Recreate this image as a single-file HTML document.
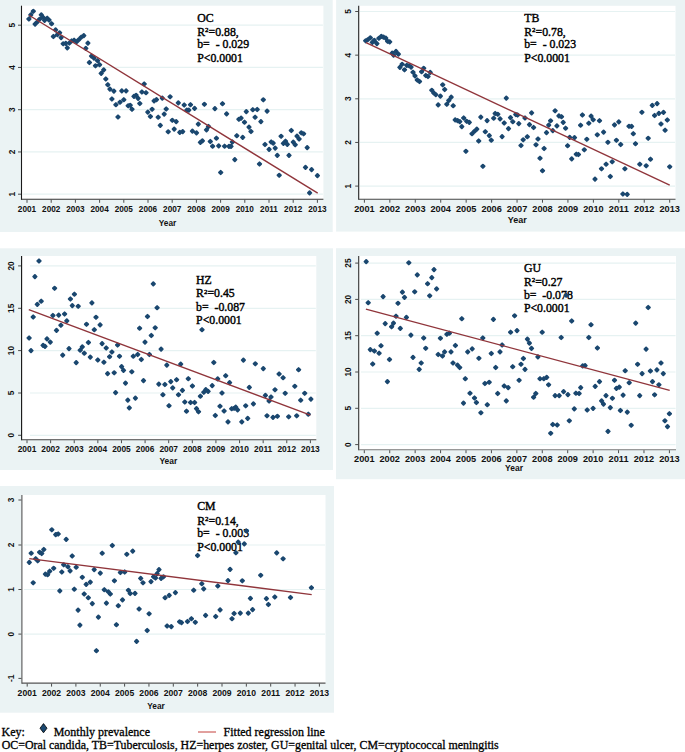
<!DOCTYPE html>
<html><head><meta charset="utf-8"><title>Monthly prevalence trends</title>
<style>
html,body{margin:0;padding:0;background:#fff;}
svg{display:block;}
.tk{font-family:'Liberation Sans', sans-serif;font-size:8.3px;fill:#111;font-weight:bold;}
.an{font-family:'Liberation Serif', serif;font-size:11.8px;fill:#000;stroke:#000;stroke-width:0.4px;}
.key{font-family:'Liberation Serif', serif;font-size:12px;fill:#000;stroke:#000;stroke-width:0.3px;}
</style></head><body>
<svg width="685" height="752" viewBox="0 0 685 752">
<rect width="685" height="752" fill="#fff"/>
<g>
<rect x="0" y="0" width="332.7" height="232" fill="#ebf3f4"/>
<rect x="21.5" y="5.7" width="301.9" height="193.6" fill="#fff"/>
<line x1="23" y1="25.2" x2="322.9" y2="25.2" stroke="#e6f2f2" stroke-width="1.2"/>
<line x1="23" y1="67.45" x2="322.9" y2="67.45" stroke="#e6f2f2" stroke-width="1.2"/>
<line x1="23" y1="109.7" x2="322.9" y2="109.7" stroke="#e6f2f2" stroke-width="1.2"/>
<line x1="23" y1="151.95" x2="322.9" y2="151.95" stroke="#e6f2f2" stroke-width="1.2"/>
<line x1="23" y1="194.2" x2="322.9" y2="194.2" stroke="#e6f2f2" stroke-width="1.2"/>
<path d="M21.5,5.7V199.85" fill="none" stroke="#1a1a1a" stroke-width="1.1"/>
<path d="M21.5,199.3H323.4" fill="none" stroke="#333" stroke-width="1.1"/>
<line x1="18" y1="25.2" x2="21" y2="25.2" stroke="#3a3a3a" stroke-width="0.9"/>
<text class="tk" text-anchor="middle" transform="translate(11.6,25.2) rotate(-90)" y="3">5</text>
<line x1="18" y1="67.45" x2="21" y2="67.45" stroke="#3a3a3a" stroke-width="0.9"/>
<text class="tk" text-anchor="middle" transform="translate(11.6,67.45) rotate(-90)" y="3">4</text>
<line x1="18" y1="109.7" x2="21" y2="109.7" stroke="#3a3a3a" stroke-width="0.9"/>
<text class="tk" text-anchor="middle" transform="translate(11.6,109.7) rotate(-90)" y="3">3</text>
<line x1="18" y1="151.95" x2="21" y2="151.95" stroke="#3a3a3a" stroke-width="0.9"/>
<text class="tk" text-anchor="middle" transform="translate(11.6,151.95) rotate(-90)" y="3">2</text>
<line x1="18" y1="194.2" x2="21" y2="194.2" stroke="#3a3a3a" stroke-width="0.9"/>
<text class="tk" text-anchor="middle" transform="translate(11.6,194.2) rotate(-90)" y="3">1</text>
<line x1="27" y1="199.8" x2="27" y2="202.8" stroke="#3a3a3a" stroke-width="0.9"/>
<text class="tk" text-anchor="middle" transform="translate(27,212.1) scale(0.99,1)">2001</text>
<line x1="51.2" y1="199.8" x2="51.2" y2="202.8" stroke="#3a3a3a" stroke-width="0.9"/>
<text class="tk" text-anchor="middle" transform="translate(51.2,212.1) scale(0.99,1)">2002</text>
<line x1="75.4" y1="199.8" x2="75.4" y2="202.8" stroke="#3a3a3a" stroke-width="0.9"/>
<text class="tk" text-anchor="middle" transform="translate(75.4,212.1) scale(0.99,1)">2003</text>
<line x1="99.6" y1="199.8" x2="99.6" y2="202.8" stroke="#3a3a3a" stroke-width="0.9"/>
<text class="tk" text-anchor="middle" transform="translate(99.6,212.1) scale(0.99,1)">2004</text>
<line x1="123.8" y1="199.8" x2="123.8" y2="202.8" stroke="#3a3a3a" stroke-width="0.9"/>
<text class="tk" text-anchor="middle" transform="translate(123.8,212.1) scale(0.99,1)">2005</text>
<line x1="148" y1="199.8" x2="148" y2="202.8" stroke="#3a3a3a" stroke-width="0.9"/>
<text class="tk" text-anchor="middle" transform="translate(148,212.1) scale(0.99,1)">2006</text>
<line x1="172.2" y1="199.8" x2="172.2" y2="202.8" stroke="#3a3a3a" stroke-width="0.9"/>
<text class="tk" text-anchor="middle" transform="translate(172.2,212.1) scale(0.99,1)">2007</text>
<line x1="196.4" y1="199.8" x2="196.4" y2="202.8" stroke="#3a3a3a" stroke-width="0.9"/>
<text class="tk" text-anchor="middle" transform="translate(196.4,212.1) scale(0.99,1)">2008</text>
<line x1="220.6" y1="199.8" x2="220.6" y2="202.8" stroke="#3a3a3a" stroke-width="0.9"/>
<text class="tk" text-anchor="middle" transform="translate(220.6,212.1) scale(0.99,1)">2009</text>
<line x1="244.8" y1="199.8" x2="244.8" y2="202.8" stroke="#3a3a3a" stroke-width="0.9"/>
<text class="tk" text-anchor="middle" transform="translate(244.8,212.1) scale(0.99,1)">2010</text>
<line x1="269" y1="199.8" x2="269" y2="202.8" stroke="#3a3a3a" stroke-width="0.9"/>
<text class="tk" text-anchor="middle" transform="translate(269,212.1) scale(0.99,1)">2011</text>
<line x1="293.2" y1="199.8" x2="293.2" y2="202.8" stroke="#3a3a3a" stroke-width="0.9"/>
<text class="tk" text-anchor="middle" transform="translate(293.2,212.1) scale(0.99,1)">2012</text>
<line x1="317.4" y1="199.8" x2="317.4" y2="202.8" stroke="#3a3a3a" stroke-width="0.9"/>
<text class="tk" text-anchor="middle" transform="translate(317.4,212.1) scale(0.99,1)">2013</text>
<text class="tk" text-anchor="middle" x="167.5" y="226.1" textLength="17.5" lengthAdjust="spacingAndGlyphs">Year</text>
<text class="an" x="197.2" y="21.6">OC</text>
<text class="an" x="197.2" y="35.7">R<tspan font-size="6.9px" dy="-3.5">2</tspan><tspan dy="3.5">=0.88,</tspan></text>
<text class="an" x="197.2" y="48.4">b=&#160; - 0.029</text>
<text class="an" x="197.2" y="62.4">P&lt;0.0001</text>
<path d="M28.9,17.4l1.6,1.6l-1.6,1.6l-1.6,-1.6zM30.8,13.3l1.6,1.6l-1.6,1.6l-1.6,-1.6zM33.3,9.7l1.6,1.6l-1.6,1.6l-1.6,-1.6zM35.1,22.5l1.6,1.6l-1.6,1.6l-1.6,-1.6zM37,20.6l1.6,1.6l-1.6,1.6l-1.6,-1.6zM39.5,17.7l1.6,1.6l-1.6,1.6l-1.6,-1.6zM41.3,13.3l1.6,1.6l-1.6,1.6l-1.6,-1.6zM42.8,15.5l1.6,1.6l-1.6,1.6l-1.6,-1.6zM44.6,18.8l1.6,1.6l-1.6,1.6l-1.6,-1.6zM47.2,16.6l1.6,1.6l-1.6,1.6l-1.6,-1.6zM49,18.4l1.6,1.6l-1.6,1.6l-1.6,-1.6zM51.6,22.1l1.6,1.6l-1.6,1.6l-1.6,-1.6zM53.4,34.9l1.6,1.6l-1.6,1.6l-1.6,-1.6zM55.6,28.3l1.6,1.6l-1.6,1.6l-1.6,-1.6zM57.4,33l1.6,1.6l-1.6,1.6l-1.6,-1.6zM59.6,31.2l1.6,1.6l-1.6,1.6l-1.6,-1.6zM61.1,36l1.6,1.6l-1.6,1.6l-1.6,-1.6zM63.2,42.2l1.6,1.6l-1.6,1.6l-1.6,-1.6zM65.8,41.8l1.6,1.6l-1.6,1.6l-1.6,-1.6zM67.3,46.3l1.6,1.6l-1.6,1.6l-1.6,-1.6zM69.4,41.4l1.6,1.6l-1.6,1.6l-1.6,-1.6zM71.6,39.4l1.6,1.6l-1.6,1.6l-1.6,-1.6zM74.1,38.6l1.6,1.6l-1.6,1.6l-1.6,-1.6zM76.6,40.2l1.6,1.6l-1.6,1.6l-1.6,-1.6zM78.7,38.1l1.6,1.6l-1.6,1.6l-1.6,-1.6zM81.2,35.6l1.6,1.6l-1.6,1.6l-1.6,-1.6zM83.8,34l1.6,1.6l-1.6,1.6l-1.6,-1.6zM85.8,46.8l1.6,1.6l-1.6,1.6l-1.6,-1.6zM87.9,41.5l1.6,1.6l-1.6,1.6l-1.6,-1.6zM89.4,60.9l1.6,1.6l-1.6,1.6l-1.6,-1.6zM91.5,54.5l1.6,1.6l-1.6,1.6l-1.6,-1.6zM94,56.5l1.6,1.6l-1.6,1.6l-1.6,-1.6zM95.5,64.2l1.6,1.6l-1.6,1.6l-1.6,-1.6zM97.6,59.1l1.6,1.6l-1.6,1.6l-1.6,-1.6zM99.6,63.1l1.6,1.6l-1.6,1.6l-1.6,-1.6zM101.2,71.8l1.6,1.6l-1.6,1.6l-1.6,-1.6zM103.7,68.3l1.6,1.6l-1.6,1.6l-1.6,-1.6zM105.8,77.4l1.6,1.6l-1.6,1.6l-1.6,-1.6zM107.8,83.1l1.6,1.6l-1.6,1.6l-1.6,-1.6zM109.9,87.5l1.6,1.6l-1.6,1.6l-1.6,-1.6zM111.9,97.4l1.6,1.6l-1.6,1.6l-1.6,-1.6zM113.9,89.5l1.6,1.6l-1.6,1.6l-1.6,-1.6zM115.9,103.1l1.6,1.6l-1.6,1.6l-1.6,-1.6zM118,115.4l1.6,1.6l-1.6,1.6l-1.6,-1.6zM120,100.6l1.6,1.6l-1.6,1.6l-1.6,-1.6zM121.8,89.3l1.6,1.6l-1.6,1.6l-1.6,-1.6zM123.8,98.1l1.6,1.6l-1.6,1.6l-1.6,-1.6zM126.1,89.3l1.6,1.6l-1.6,1.6l-1.6,-1.6zM128.2,104.2l1.6,1.6l-1.6,1.6l-1.6,-1.6zM130.2,103.7l1.6,1.6l-1.6,1.6l-1.6,-1.6zM132,107.7l1.6,1.6l-1.6,1.6l-1.6,-1.6zM134,94.8l1.6,1.6l-1.6,1.6l-1.6,-1.6zM136.1,93.7l1.6,1.6l-1.6,1.6l-1.6,-1.6zM138.1,96.8l1.6,1.6l-1.6,1.6l-1.6,-1.6zM139.8,101.9l1.6,1.6l-1.6,1.6l-1.6,-1.6zM141.9,90.4l1.6,1.6l-1.6,1.6l-1.6,-1.6zM144.2,82.4l1.6,1.6l-1.6,1.6l-1.6,-1.6zM146,91.1l1.6,1.6l-1.6,1.6l-1.6,-1.6zM147.8,110.5l1.6,1.6l-1.6,1.6l-1.6,-1.6zM150.4,114.9l1.6,1.6l-1.6,1.6l-1.6,-1.6zM152.1,107.7l1.6,1.6l-1.6,1.6l-1.6,-1.6zM154.1,99.3l1.6,1.6l-1.6,1.6l-1.6,-1.6zM156.5,98l1.6,1.6l-1.6,1.6l-1.6,-1.6zM158.2,115.6l1.6,1.6l-1.6,1.6l-1.6,-1.6zM160.3,123.8l1.6,1.6l-1.6,1.6l-1.6,-1.6zM162.3,96.5l1.6,1.6l-1.6,1.6l-1.6,-1.6zM164.2,112.5l1.6,1.6l-1.6,1.6l-1.6,-1.6zM166.2,107.4l1.6,1.6l-1.6,1.6l-1.6,-1.6zM168.2,130.2l1.6,1.6l-1.6,1.6l-1.6,-1.6zM170.1,95.2l1.6,1.6l-1.6,1.6l-1.6,-1.6zM172.3,118.7l1.6,1.6l-1.6,1.6l-1.6,-1.6zM174.2,127.5l1.6,1.6l-1.6,1.6l-1.6,-1.6zM176.2,120l1.6,1.6l-1.6,1.6l-1.6,-1.6zM178.3,101.3l1.6,1.6l-1.6,1.6l-1.6,-1.6zM179.8,130.8l1.6,1.6l-1.6,1.6l-1.6,-1.6zM182.7,130l1.6,1.6l-1.6,1.6l-1.6,-1.6zM184.2,103.4l1.6,1.6l-1.6,1.6l-1.6,-1.6zM186.8,108.5l1.6,1.6l-1.6,1.6l-1.6,-1.6zM188.8,108.5l1.6,1.6l-1.6,1.6l-1.6,-1.6zM190.5,103.1l1.6,1.6l-1.6,1.6l-1.6,-1.6zM192.4,129.5l1.6,1.6l-1.6,1.6l-1.6,-1.6zM194.6,106.8l1.6,1.6l-1.6,1.6l-1.6,-1.6zM196.5,131.3l1.6,1.6l-1.6,1.6l-1.6,-1.6zM198.3,122.5l1.6,1.6l-1.6,1.6l-1.6,-1.6zM200.4,140.8l1.6,1.6l-1.6,1.6l-1.6,-1.6zM202.4,139.3l1.6,1.6l-1.6,1.6l-1.6,-1.6zM204.4,102.7l1.6,1.6l-1.6,1.6l-1.6,-1.6zM206.5,128.3l1.6,1.6l-1.6,1.6l-1.6,-1.6zM208.5,124.9l1.6,1.6l-1.6,1.6l-1.6,-1.6zM210.3,139.9l1.6,1.6l-1.6,1.6l-1.6,-1.6zM212.6,144.6l1.6,1.6l-1.6,1.6l-1.6,-1.6zM214.9,107l1.6,1.6l-1.6,1.6l-1.6,-1.6zM216.4,136.6l1.6,1.6l-1.6,1.6l-1.6,-1.6zM218.7,144.3l1.6,1.6l-1.6,1.6l-1.6,-1.6zM220.7,170.9l1.6,1.6l-1.6,1.6l-1.6,-1.6zM222.5,102.1l1.6,1.6l-1.6,1.6l-1.6,-1.6zM224.6,144.6l1.6,1.6l-1.6,1.6l-1.6,-1.6zM226.6,112.3l1.6,1.6l-1.6,1.6l-1.6,-1.6zM229,144.8l1.6,1.6l-1.6,1.6l-1.6,-1.6zM231,144.8l1.6,1.6l-1.6,1.6l-1.6,-1.6zM232.4,140.4l1.6,1.6l-1.6,1.6l-1.6,-1.6zM234.8,158l1.6,1.6l-1.6,1.6l-1.6,-1.6zM236.8,134.1l1.6,1.6l-1.6,1.6l-1.6,-1.6zM238.9,117.7l1.6,1.6l-1.6,1.6l-1.6,-1.6zM241.1,116.5l1.6,1.6l-1.6,1.6l-1.6,-1.6zM242.7,135.8l1.6,1.6l-1.6,1.6l-1.6,-1.6zM244.5,120.6l1.6,1.6l-1.6,1.6l-1.6,-1.6zM246.3,110l1.6,1.6l-1.6,1.6l-1.6,-1.6zM249,125.5l1.6,1.6l-1.6,1.6l-1.6,-1.6zM251,129.9l1.6,1.6l-1.6,1.6l-1.6,-1.6zM252.8,108.1l1.6,1.6l-1.6,1.6l-1.6,-1.6zM255.1,115.6l1.6,1.6l-1.6,1.6l-1.6,-1.6zM257.2,107.9l1.6,1.6l-1.6,1.6l-1.6,-1.6zM259.5,162.4l1.6,1.6l-1.6,1.6l-1.6,-1.6zM260.9,120l1.6,1.6l-1.6,1.6l-1.6,-1.6zM263.3,98.2l1.6,1.6l-1.6,1.6l-1.6,-1.6zM265,142.9l1.6,1.6l-1.6,1.6l-1.6,-1.6zM267.1,109.5l1.6,1.6l-1.6,1.6l-1.6,-1.6zM269.1,147.8l1.6,1.6l-1.6,1.6l-1.6,-1.6zM271.2,140.4l1.6,1.6l-1.6,1.6l-1.6,-1.6zM273.2,141.5l1.6,1.6l-1.6,1.6l-1.6,-1.6zM275.2,146.5l1.6,1.6l-1.6,1.6l-1.6,-1.6zM277.3,153.8l1.6,1.6l-1.6,1.6l-1.6,-1.6zM279.2,173.7l1.6,1.6l-1.6,1.6l-1.6,-1.6zM281.1,134.7l1.6,1.6l-1.6,1.6l-1.6,-1.6zM283.4,141.8l1.6,1.6l-1.6,1.6l-1.6,-1.6zM285.5,139.6l1.6,1.6l-1.6,1.6l-1.6,-1.6zM287.3,142.8l1.6,1.6l-1.6,1.6l-1.6,-1.6zM289,153.8l1.6,1.6l-1.6,1.6l-1.6,-1.6zM291.3,128.9l1.6,1.6l-1.6,1.6l-1.6,-1.6zM293.3,140.5l1.6,1.6l-1.6,1.6l-1.6,-1.6zM295.2,143.2l1.6,1.6l-1.6,1.6l-1.6,-1.6zM297,134.5l1.6,1.6l-1.6,1.6l-1.6,-1.6zM299.1,137.4l1.6,1.6l-1.6,1.6l-1.6,-1.6zM301.3,131.2l1.6,1.6l-1.6,1.6l-1.6,-1.6zM303.6,132.2l1.6,1.6l-1.6,1.6l-1.6,-1.6zM305.5,165.8l1.6,1.6l-1.6,1.6l-1.6,-1.6zM307.2,146l1.6,1.6l-1.6,1.6l-1.6,-1.6zM309.6,191.3l1.6,1.6l-1.6,1.6l-1.6,-1.6zM311.6,168l1.6,1.6l-1.6,1.6l-1.6,-1.6zM317.4,174l1.6,1.6l-1.6,1.6l-1.6,-1.6z" fill="#1a476f" stroke="#1a476f" stroke-width="2" stroke-linejoin="round"/>
<line x1="29.1" y1="15.3" x2="317.7" y2="193.1" stroke="#90353b" stroke-width="1.35"/>
</g>
<g>
<rect x="336.1" y="0" width="348.9" height="231.6" fill="#ebf3f4"/>
<rect x="358.7" y="5.8" width="316.8" height="193.4" fill="#fff"/>
<line x1="360" y1="11.5" x2="675" y2="11.5" stroke="#e6f2f2" stroke-width="1.2"/>
<line x1="360" y1="55.15" x2="675" y2="55.15" stroke="#e6f2f2" stroke-width="1.2"/>
<line x1="360" y1="98.8" x2="675" y2="98.8" stroke="#e6f2f2" stroke-width="1.2"/>
<line x1="360" y1="142.45" x2="675" y2="142.45" stroke="#e6f2f2" stroke-width="1.2"/>
<line x1="360" y1="186.1" x2="675" y2="186.1" stroke="#e6f2f2" stroke-width="1.2"/>
<path d="M358.7,5.8V199.75" fill="none" stroke="#222" stroke-width="1.1"/>
<path d="M358.7,199.2H675.5" fill="none" stroke="#444" stroke-width="1.1"/>
<line x1="355.2" y1="11.5" x2="358.2" y2="11.5" stroke="#3a3a3a" stroke-width="0.9"/>
<text class="tk" text-anchor="middle" transform="translate(348,11.5) rotate(-90)" y="3">5</text>
<line x1="355.2" y1="55.15" x2="358.2" y2="55.15" stroke="#3a3a3a" stroke-width="0.9"/>
<text class="tk" text-anchor="middle" transform="translate(348,55.15) rotate(-90)" y="3">4</text>
<line x1="355.2" y1="98.8" x2="358.2" y2="98.8" stroke="#3a3a3a" stroke-width="0.9"/>
<text class="tk" text-anchor="middle" transform="translate(348,98.8) rotate(-90)" y="3">3</text>
<line x1="355.2" y1="142.45" x2="358.2" y2="142.45" stroke="#3a3a3a" stroke-width="0.9"/>
<text class="tk" text-anchor="middle" transform="translate(348,142.45) rotate(-90)" y="3">2</text>
<line x1="355.2" y1="186.1" x2="358.2" y2="186.1" stroke="#3a3a3a" stroke-width="0.9"/>
<text class="tk" text-anchor="middle" transform="translate(348,186.1) rotate(-90)" y="3">1</text>
<line x1="364.4" y1="199.7" x2="364.4" y2="202.7" stroke="#3a3a3a" stroke-width="0.9"/>
<text class="tk" text-anchor="middle" transform="translate(364.4,211.9) scale(1.11,1)">2001</text>
<line x1="389.84" y1="199.7" x2="389.84" y2="202.7" stroke="#3a3a3a" stroke-width="0.9"/>
<text class="tk" text-anchor="middle" transform="translate(389.84,211.9) scale(1.11,1)">2002</text>
<line x1="415.28" y1="199.7" x2="415.28" y2="202.7" stroke="#3a3a3a" stroke-width="0.9"/>
<text class="tk" text-anchor="middle" transform="translate(415.28,211.9) scale(1.11,1)">2003</text>
<line x1="440.73" y1="199.7" x2="440.73" y2="202.7" stroke="#3a3a3a" stroke-width="0.9"/>
<text class="tk" text-anchor="middle" transform="translate(440.73,211.9) scale(1.11,1)">2004</text>
<line x1="466.17" y1="199.7" x2="466.17" y2="202.7" stroke="#3a3a3a" stroke-width="0.9"/>
<text class="tk" text-anchor="middle" transform="translate(466.17,211.9) scale(1.11,1)">2005</text>
<line x1="491.61" y1="199.7" x2="491.61" y2="202.7" stroke="#3a3a3a" stroke-width="0.9"/>
<text class="tk" text-anchor="middle" transform="translate(491.61,211.9) scale(1.11,1)">2006</text>
<line x1="517.05" y1="199.7" x2="517.05" y2="202.7" stroke="#3a3a3a" stroke-width="0.9"/>
<text class="tk" text-anchor="middle" transform="translate(517.05,211.9) scale(1.11,1)">2007</text>
<line x1="542.49" y1="199.7" x2="542.49" y2="202.7" stroke="#3a3a3a" stroke-width="0.9"/>
<text class="tk" text-anchor="middle" transform="translate(542.49,211.9) scale(1.11,1)">2008</text>
<line x1="567.93" y1="199.7" x2="567.93" y2="202.7" stroke="#3a3a3a" stroke-width="0.9"/>
<text class="tk" text-anchor="middle" transform="translate(567.93,211.9) scale(1.11,1)">2009</text>
<line x1="593.38" y1="199.7" x2="593.38" y2="202.7" stroke="#3a3a3a" stroke-width="0.9"/>
<text class="tk" text-anchor="middle" transform="translate(593.38,211.9) scale(1.11,1)">2010</text>
<line x1="618.82" y1="199.7" x2="618.82" y2="202.7" stroke="#3a3a3a" stroke-width="0.9"/>
<text class="tk" text-anchor="middle" transform="translate(618.82,211.9) scale(1.11,1)">2011</text>
<line x1="644.26" y1="199.7" x2="644.26" y2="202.7" stroke="#3a3a3a" stroke-width="0.9"/>
<text class="tk" text-anchor="middle" transform="translate(644.26,211.9) scale(1.11,1)">2012</text>
<line x1="669.7" y1="199.7" x2="669.7" y2="202.7" stroke="#3a3a3a" stroke-width="0.9"/>
<text class="tk" text-anchor="middle" transform="translate(669.7,211.9) scale(1.11,1)">2013</text>
<text class="tk" text-anchor="middle" x="517.3" y="222.8" textLength="19" lengthAdjust="spacingAndGlyphs">Year</text>
<text class="an" x="524.2" y="21.6">TB</text>
<text class="an" x="524.2" y="35.5">R<tspan font-size="6.9px" dy="-3.5">2</tspan><tspan dy="3.5">=0.78,</tspan></text>
<text class="an" x="524.2" y="48.4">b=&#160; - 0.023</text>
<text class="an" x="524.2" y="62.2">P&lt;0.0001</text>
<path d="M365.7,39.2l1.6,1.6l-1.6,1.6l-1.6,-1.6zM367.7,38.2l1.6,1.6l-1.6,1.6l-1.6,-1.6zM370.3,36.2l1.6,1.6l-1.6,1.6l-1.6,-1.6zM372.3,40.8l1.6,1.6l-1.6,1.6l-1.6,-1.6zM374.3,38.7l1.6,1.6l-1.6,1.6l-1.6,-1.6zM376.9,42l1.6,1.6l-1.6,1.6l-1.6,-1.6zM378.9,36.7l1.6,1.6l-1.6,1.6l-1.6,-1.6zM381.3,34.8l1.6,1.6l-1.6,1.6l-1.6,-1.6zM383.5,35.5l1.6,1.6l-1.6,1.6l-1.6,-1.6zM385.8,36.5l1.6,1.6l-1.6,1.6l-1.6,-1.6zM387.6,39.7l1.6,1.6l-1.6,1.6l-1.6,-1.6zM389.7,40.3l1.6,1.6l-1.6,1.6l-1.6,-1.6zM392.2,51.5l1.6,1.6l-1.6,1.6l-1.6,-1.6zM393.6,53.5l1.6,1.6l-1.6,1.6l-1.6,-1.6zM396,49.8l1.6,1.6l-1.6,1.6l-1.6,-1.6zM398.4,52.5l1.6,1.6l-1.6,1.6l-1.6,-1.6zM399.9,65.8l1.6,1.6l-1.6,1.6l-1.6,-1.6zM402.1,62.7l1.6,1.6l-1.6,1.6l-1.6,-1.6zM404.5,68.2l1.6,1.6l-1.6,1.6l-1.6,-1.6zM406.8,63.8l1.6,1.6l-1.6,1.6l-1.6,-1.6zM409.1,64.1l1.6,1.6l-1.6,1.6l-1.6,-1.6zM411.1,65.5l1.6,1.6l-1.6,1.6l-1.6,-1.6zM413,70.6l1.6,1.6l-1.6,1.6l-1.6,-1.6zM415,74.3l1.6,1.6l-1.6,1.6l-1.6,-1.6zM417.3,78.4l1.6,1.6l-1.6,1.6l-1.6,-1.6zM419.5,79.9l1.6,1.6l-1.6,1.6l-1.6,-1.6zM421.6,70.1l1.6,1.6l-1.6,1.6l-1.6,-1.6zM423.7,66.7l1.6,1.6l-1.6,1.6l-1.6,-1.6zM425.8,73.9l1.6,1.6l-1.6,1.6l-1.6,-1.6zM428,74.9l1.6,1.6l-1.6,1.6l-1.6,-1.6zM430.2,70.8l1.6,1.6l-1.6,1.6l-1.6,-1.6zM431.8,88.7l1.6,1.6l-1.6,1.6l-1.6,-1.6zM433.8,91.4l1.6,1.6l-1.6,1.6l-1.6,-1.6zM435.8,93l1.6,1.6l-1.6,1.6l-1.6,-1.6zM438.2,103.3l1.6,1.6l-1.6,1.6l-1.6,-1.6zM440.4,94.5l1.6,1.6l-1.6,1.6l-1.6,-1.6zM442.7,83.2l1.6,1.6l-1.6,1.6l-1.6,-1.6zM444.7,87.9l1.6,1.6l-1.6,1.6l-1.6,-1.6zM446.8,102.7l1.6,1.6l-1.6,1.6l-1.6,-1.6zM448.8,98.9l1.6,1.6l-1.6,1.6l-1.6,-1.6zM451.2,95.5l1.6,1.6l-1.6,1.6l-1.6,-1.6zM453.2,104.1l1.6,1.6l-1.6,1.6l-1.6,-1.6zM455.2,118.3l1.6,1.6l-1.6,1.6l-1.6,-1.6zM457.6,119l1.6,1.6l-1.6,1.6l-1.6,-1.6zM459.8,120l1.6,1.6l-1.6,1.6l-1.6,-1.6zM461.8,125l1.6,1.6l-1.6,1.6l-1.6,-1.6zM463.7,116.4l1.6,1.6l-1.6,1.6l-1.6,-1.6zM465.9,149.7l1.6,1.6l-1.6,1.6l-1.6,-1.6zM466.7,119.7l1.6,1.6l-1.6,1.6l-1.6,-1.6zM469.3,120.8l1.6,1.6l-1.6,1.6l-1.6,-1.6zM472,132.1l1.6,1.6l-1.6,1.6l-1.6,-1.6zM474.5,129.6l1.6,1.6l-1.6,1.6l-1.6,-1.6zM476.8,127.5l1.6,1.6l-1.6,1.6l-1.6,-1.6zM478.7,139.4l1.6,1.6l-1.6,1.6l-1.6,-1.6zM480.8,115.5l1.6,1.6l-1.6,1.6l-1.6,-1.6zM482.9,164.7l1.6,1.6l-1.6,1.6l-1.6,-1.6zM485.3,130.1l1.6,1.6l-1.6,1.6l-1.6,-1.6zM487.1,119l1.6,1.6l-1.6,1.6l-1.6,-1.6zM489.3,134l1.6,1.6l-1.6,1.6l-1.6,-1.6zM491.3,138.6l1.6,1.6l-1.6,1.6l-1.6,-1.6zM493.7,116.6l1.6,1.6l-1.6,1.6l-1.6,-1.6zM495.2,111.9l1.6,1.6l-1.6,1.6l-1.6,-1.6zM497.8,112.7l1.6,1.6l-1.6,1.6l-1.6,-1.6zM500.1,117.3l1.6,1.6l-1.6,1.6l-1.6,-1.6zM502.1,135l1.6,1.6l-1.6,1.6l-1.6,-1.6zM504.2,121.4l1.6,1.6l-1.6,1.6l-1.6,-1.6zM506.3,96.5l1.6,1.6l-1.6,1.6l-1.6,-1.6zM508.5,127l1.6,1.6l-1.6,1.6l-1.6,-1.6zM510.5,116l1.6,1.6l-1.6,1.6l-1.6,-1.6zM512.8,120.1l1.6,1.6l-1.6,1.6l-1.6,-1.6zM515.8,112.9l1.6,1.6l-1.6,1.6l-1.6,-1.6zM517.6,113.4l1.6,1.6l-1.6,1.6l-1.6,-1.6zM518.8,122l1.6,1.6l-1.6,1.6l-1.6,-1.6zM521,143.9l1.6,1.6l-1.6,1.6l-1.6,-1.6zM523.2,138.2l1.6,1.6l-1.6,1.6l-1.6,-1.6zM525,116.4l1.6,1.6l-1.6,1.6l-1.6,-1.6zM527.3,135.1l1.6,1.6l-1.6,1.6l-1.6,-1.6zM529.5,123l1.6,1.6l-1.6,1.6l-1.6,-1.6zM531.6,111.3l1.6,1.6l-1.6,1.6l-1.6,-1.6zM533.6,125.9l1.6,1.6l-1.6,1.6l-1.6,-1.6zM536,143.2l1.6,1.6l-1.6,1.6l-1.6,-1.6zM538,137.4l1.6,1.6l-1.6,1.6l-1.6,-1.6zM540,156.6l1.6,1.6l-1.6,1.6l-1.6,-1.6zM542.5,169.1l1.6,1.6l-1.6,1.6l-1.6,-1.6zM544.1,146.9l1.6,1.6l-1.6,1.6l-1.6,-1.6zM546.5,131l1.6,1.6l-1.6,1.6l-1.6,-1.6zM548.7,123.5l1.6,1.6l-1.6,1.6l-1.6,-1.6zM550.6,119.2l1.6,1.6l-1.6,1.6l-1.6,-1.6zM552.8,129l1.6,1.6l-1.6,1.6l-1.6,-1.6zM555.1,109.2l1.6,1.6l-1.6,1.6l-1.6,-1.6zM556.9,124.3l1.6,1.6l-1.6,1.6l-1.6,-1.6zM558.9,114.3l1.6,1.6l-1.6,1.6l-1.6,-1.6zM561.5,115.1l1.6,1.6l-1.6,1.6l-1.6,-1.6zM563.2,120.8l1.6,1.6l-1.6,1.6l-1.6,-1.6zM565.6,126.6l1.6,1.6l-1.6,1.6l-1.6,-1.6zM567.6,144.1l1.6,1.6l-1.6,1.6l-1.6,-1.6zM569.7,135.8l1.6,1.6l-1.6,1.6l-1.6,-1.6zM571.7,157.3l1.6,1.6l-1.6,1.6l-1.6,-1.6zM574.5,136l1.6,1.6l-1.6,1.6l-1.6,-1.6zM576.3,152.6l1.6,1.6l-1.6,1.6l-1.6,-1.6zM578.4,152.9l1.6,1.6l-1.6,1.6l-1.6,-1.6zM580.6,123.6l1.6,1.6l-1.6,1.6l-1.6,-1.6zM582.4,113.4l1.6,1.6l-1.6,1.6l-1.6,-1.6zM584.3,148.2l1.6,1.6l-1.6,1.6l-1.6,-1.6zM586.8,137.7l1.6,1.6l-1.6,1.6l-1.6,-1.6zM588.8,121.6l1.6,1.6l-1.6,1.6l-1.6,-1.6zM591.1,114.5l1.6,1.6l-1.6,1.6l-1.6,-1.6zM593.2,118.2l1.6,1.6l-1.6,1.6l-1.6,-1.6zM595,177.5l1.6,1.6l-1.6,1.6l-1.6,-1.6zM597.3,133.2l1.6,1.6l-1.6,1.6l-1.6,-1.6zM599.5,119.1l1.6,1.6l-1.6,1.6l-1.6,-1.6zM601.5,167.2l1.6,1.6l-1.6,1.6l-1.6,-1.6zM603.6,130.5l1.6,1.6l-1.6,1.6l-1.6,-1.6zM606.1,162.6l1.6,1.6l-1.6,1.6l-1.6,-1.6zM607.9,140.7l1.6,1.6l-1.6,1.6l-1.6,-1.6zM610.3,174.9l1.6,1.6l-1.6,1.6l-1.6,-1.6zM612.2,160.2l1.6,1.6l-1.6,1.6l-1.6,-1.6zM614.5,123.3l1.6,1.6l-1.6,1.6l-1.6,-1.6zM616.4,138.7l1.6,1.6l-1.6,1.6l-1.6,-1.6zM618.8,120.3l1.6,1.6l-1.6,1.6l-1.6,-1.6zM620.7,142.9l1.6,1.6l-1.6,1.6l-1.6,-1.6zM622.9,192.4l1.6,1.6l-1.6,1.6l-1.6,-1.6zM624.9,167.2l1.6,1.6l-1.6,1.6l-1.6,-1.6zM627.2,192.8l1.6,1.6l-1.6,1.6l-1.6,-1.6zM629,124.7l1.6,1.6l-1.6,1.6l-1.6,-1.6zM631.6,124.8l1.6,1.6l-1.6,1.6l-1.6,-1.6zM633.3,132.1l1.6,1.6l-1.6,1.6l-1.6,-1.6zM635.5,142.1l1.6,1.6l-1.6,1.6l-1.6,-1.6zM639.8,162.6l1.6,1.6l-1.6,1.6l-1.6,-1.6zM641.9,110.7l1.6,1.6l-1.6,1.6l-1.6,-1.6zM646.2,164.2l1.6,1.6l-1.6,1.6l-1.6,-1.6zM648.2,136.7l1.6,1.6l-1.6,1.6l-1.6,-1.6zM650.5,157.6l1.6,1.6l-1.6,1.6l-1.6,-1.6zM652.3,103.8l1.6,1.6l-1.6,1.6l-1.6,-1.6zM654.6,113.9l1.6,1.6l-1.6,1.6l-1.6,-1.6zM657.1,102l1.6,1.6l-1.6,1.6l-1.6,-1.6zM658.9,111.8l1.6,1.6l-1.6,1.6l-1.6,-1.6zM661,122.4l1.6,1.6l-1.6,1.6l-1.6,-1.6zM663.5,110.8l1.6,1.6l-1.6,1.6l-1.6,-1.6zM665.1,128.6l1.6,1.6l-1.6,1.6l-1.6,-1.6zM667.3,118.4l1.6,1.6l-1.6,1.6l-1.6,-1.6zM669.7,165.2l1.6,1.6l-1.6,1.6l-1.6,-1.6z" fill="#1a476f" stroke="#1a476f" stroke-width="2" stroke-linejoin="round"/>
<line x1="366" y1="42.6" x2="669.7" y2="185.2" stroke="#90353b" stroke-width="1.35"/>
</g>
<g>
<rect x="0" y="248.3" width="333" height="221.7" fill="#ebf3f4"/>
<rect x="21.6" y="256" width="294.7" height="183.7" fill="#fff"/>
<line x1="30" y1="265.9" x2="315.8" y2="265.9" stroke="#e6f2f2" stroke-width="1.2"/>
<line x1="30" y1="308.3" x2="315.8" y2="308.3" stroke="#e6f2f2" stroke-width="1.2"/>
<line x1="30" y1="350.6" x2="315.8" y2="350.6" stroke="#e6f2f2" stroke-width="1.2"/>
<line x1="30" y1="393" x2="315.8" y2="393" stroke="#e6f2f2" stroke-width="1.2"/>
<line x1="30" y1="435.3" x2="315.8" y2="435.3" stroke="#e6f2f2" stroke-width="1.2"/>
<path d="M21.6,256V440.25" fill="none" stroke="#111" stroke-width="1.1"/>
<path d="M21.6,439.7H316.3" fill="none" stroke="#444" stroke-width="1.1"/>
<line x1="18.1" y1="265.9" x2="21.1" y2="265.9" stroke="#3a3a3a" stroke-width="0.9"/>
<text class="tk" text-anchor="middle" transform="translate(11.2,265.9) rotate(-90)" y="3">20</text>
<line x1="18.1" y1="308.3" x2="21.1" y2="308.3" stroke="#3a3a3a" stroke-width="0.9"/>
<text class="tk" text-anchor="middle" transform="translate(11.2,308.3) rotate(-90)" y="3">15</text>
<line x1="18.1" y1="350.6" x2="21.1" y2="350.6" stroke="#3a3a3a" stroke-width="0.9"/>
<text class="tk" text-anchor="middle" transform="translate(11.2,350.6) rotate(-90)" y="3">10</text>
<line x1="18.1" y1="393" x2="21.1" y2="393" stroke="#3a3a3a" stroke-width="0.9"/>
<text class="tk" text-anchor="middle" transform="translate(11.2,393) rotate(-90)" y="3">5</text>
<line x1="18.1" y1="435.3" x2="21.1" y2="435.3" stroke="#3a3a3a" stroke-width="0.9"/>
<text class="tk" text-anchor="middle" transform="translate(11.2,435.3) rotate(-90)" y="3">0</text>
<line x1="27" y1="440.2" x2="27" y2="443.2" stroke="#3a3a3a" stroke-width="0.9"/>
<text class="tk" text-anchor="middle" transform="translate(27,451.6) scale(1.01,1)">2001</text>
<line x1="50.62" y1="440.2" x2="50.62" y2="443.2" stroke="#3a3a3a" stroke-width="0.9"/>
<text class="tk" text-anchor="middle" transform="translate(50.62,451.6) scale(1.01,1)">2002</text>
<line x1="74.23" y1="440.2" x2="74.23" y2="443.2" stroke="#3a3a3a" stroke-width="0.9"/>
<text class="tk" text-anchor="middle" transform="translate(74.23,451.6) scale(1.01,1)">2003</text>
<line x1="97.85" y1="440.2" x2="97.85" y2="443.2" stroke="#3a3a3a" stroke-width="0.9"/>
<text class="tk" text-anchor="middle" transform="translate(97.85,451.6) scale(1.01,1)">2004</text>
<line x1="121.47" y1="440.2" x2="121.47" y2="443.2" stroke="#3a3a3a" stroke-width="0.9"/>
<text class="tk" text-anchor="middle" transform="translate(121.47,451.6) scale(1.01,1)">2005</text>
<line x1="145.08" y1="440.2" x2="145.08" y2="443.2" stroke="#3a3a3a" stroke-width="0.9"/>
<text class="tk" text-anchor="middle" transform="translate(145.08,451.6) scale(1.01,1)">2006</text>
<line x1="168.7" y1="440.2" x2="168.7" y2="443.2" stroke="#3a3a3a" stroke-width="0.9"/>
<text class="tk" text-anchor="middle" transform="translate(168.7,451.6) scale(1.01,1)">2007</text>
<line x1="192.32" y1="440.2" x2="192.32" y2="443.2" stroke="#3a3a3a" stroke-width="0.9"/>
<text class="tk" text-anchor="middle" transform="translate(192.32,451.6) scale(1.01,1)">2008</text>
<line x1="215.93" y1="440.2" x2="215.93" y2="443.2" stroke="#3a3a3a" stroke-width="0.9"/>
<text class="tk" text-anchor="middle" transform="translate(215.93,451.6) scale(1.01,1)">2009</text>
<line x1="239.55" y1="440.2" x2="239.55" y2="443.2" stroke="#3a3a3a" stroke-width="0.9"/>
<text class="tk" text-anchor="middle" transform="translate(239.55,451.6) scale(1.01,1)">2010</text>
<line x1="263.17" y1="440.2" x2="263.17" y2="443.2" stroke="#3a3a3a" stroke-width="0.9"/>
<text class="tk" text-anchor="middle" transform="translate(263.17,451.6) scale(1.01,1)">2011</text>
<line x1="286.78" y1="440.2" x2="286.78" y2="443.2" stroke="#3a3a3a" stroke-width="0.9"/>
<text class="tk" text-anchor="middle" transform="translate(286.78,451.6) scale(1.01,1)">2012</text>
<line x1="310.4" y1="440.2" x2="310.4" y2="443.2" stroke="#3a3a3a" stroke-width="0.9"/>
<text class="tk" text-anchor="middle" transform="translate(310.4,451.6) scale(1.01,1)">2013</text>
<text class="tk" text-anchor="middle" x="168.3" y="463.6" textLength="17.8" lengthAdjust="spacingAndGlyphs">Year</text>
<text class="an" x="196.1" y="283.7">HZ</text>
<text class="an" x="196.1" y="297.2">R<tspan font-size="6.9px" dy="-3.5">2</tspan><tspan dy="3.5">=0.45</tspan></text>
<text class="an" x="196.1" y="310.5">b=&#160; -0.087</text>
<text class="an" x="196.1" y="323.6">P&lt;0.0001</text>
<path d="M29.1,336.4l1.6,1.6l-1.6,1.6l-1.6,-1.6zM31,349l1.6,1.6l-1.6,1.6l-1.6,-1.6zM33.2,315.4l1.6,1.6l-1.6,1.6l-1.6,-1.6zM34.9,275l1.6,1.6l-1.6,1.6l-1.6,-1.6zM37.3,302.8l1.6,1.6l-1.6,1.6l-1.6,-1.6zM39,259.4l1.6,1.6l-1.6,1.6l-1.6,-1.6zM41.2,299.6l1.6,1.6l-1.6,1.6l-1.6,-1.6zM43.1,343.8l1.6,1.6l-1.6,1.6l-1.6,-1.6zM45,344.8l1.6,1.6l-1.6,1.6l-1.6,-1.6zM47,337.3l1.6,1.6l-1.6,1.6l-1.6,-1.6zM50.3,340.5l1.6,1.6l-1.6,1.6l-1.6,-1.6zM52.9,313.9l1.6,1.6l-1.6,1.6l-1.6,-1.6zM54.6,286.7l1.6,1.6l-1.6,1.6l-1.6,-1.6zM56.5,328.8l1.6,1.6l-1.6,1.6l-1.6,-1.6zM58.7,313.5l1.6,1.6l-1.6,1.6l-1.6,-1.6zM60.9,323.7l1.6,1.6l-1.6,1.6l-1.6,-1.6zM62.7,353.5l1.6,1.6l-1.6,1.6l-1.6,-1.6zM64.6,312.4l1.6,1.6l-1.6,1.6l-1.6,-1.6zM66.8,319.3l1.6,1.6l-1.6,1.6l-1.6,-1.6zM69,347l1.6,1.6l-1.6,1.6l-1.6,-1.6zM70.4,297.4l1.6,1.6l-1.6,1.6l-1.6,-1.6zM72.3,304l1.6,1.6l-1.6,1.6l-1.6,-1.6zM74.4,292.6l1.6,1.6l-1.6,1.6l-1.6,-1.6zM76.2,361l1.6,1.6l-1.6,1.6l-1.6,-1.6zM78.2,304.7l1.6,1.6l-1.6,1.6l-1.6,-1.6zM80.2,348.6l1.6,1.6l-1.6,1.6l-1.6,-1.6zM82.3,345.3l1.6,1.6l-1.6,1.6l-1.6,-1.6zM84.3,351.6l1.6,1.6l-1.6,1.6l-1.6,-1.6zM86.5,322.7l1.6,1.6l-1.6,1.6l-1.6,-1.6zM88.4,340.9l1.6,1.6l-1.6,1.6l-1.6,-1.6zM90.3,355.5l1.6,1.6l-1.6,1.6l-1.6,-1.6zM91.9,301.3l1.6,1.6l-1.6,1.6l-1.6,-1.6zM94.3,328.1l1.6,1.6l-1.6,1.6l-1.6,-1.6zM96,315.7l1.6,1.6l-1.6,1.6l-1.6,-1.6zM97.8,358.4l1.6,1.6l-1.6,1.6l-1.6,-1.6zM100.1,323.3l1.6,1.6l-1.6,1.6l-1.6,-1.6zM102.1,342l1.6,1.6l-1.6,1.6l-1.6,-1.6zM103.9,360.6l1.6,1.6l-1.6,1.6l-1.6,-1.6zM106.2,346.4l1.6,1.6l-1.6,1.6l-1.6,-1.6zM107.6,372l1.6,1.6l-1.6,1.6l-1.6,-1.6zM109.6,355.1l1.6,1.6l-1.6,1.6l-1.6,-1.6zM111.9,350.4l1.6,1.6l-1.6,1.6l-1.6,-1.6zM114.2,371.2l1.6,1.6l-1.6,1.6l-1.6,-1.6zM115.6,391l1.6,1.6l-1.6,1.6l-1.6,-1.6zM117.6,343.4l1.6,1.6l-1.6,1.6l-1.6,-1.6zM119.5,354.7l1.6,1.6l-1.6,1.6l-1.6,-1.6zM121.6,365l1.6,1.6l-1.6,1.6l-1.6,-1.6zM123.5,368.8l1.6,1.6l-1.6,1.6l-1.6,-1.6zM125.5,381.5l1.6,1.6l-1.6,1.6l-1.6,-1.6zM127.8,398.5l1.6,1.6l-1.6,1.6l-1.6,-1.6zM129.3,406.3l1.6,1.6l-1.6,1.6l-1.6,-1.6zM131.8,370.2l1.6,1.6l-1.6,1.6l-1.6,-1.6zM133.3,354.6l1.6,1.6l-1.6,1.6l-1.6,-1.6zM135.4,396.5l1.6,1.6l-1.6,1.6l-1.6,-1.6zM137.7,352.9l1.6,1.6l-1.6,1.6l-1.6,-1.6zM139.6,326.6l1.6,1.6l-1.6,1.6l-1.6,-1.6zM141.3,357.9l1.6,1.6l-1.6,1.6l-1.6,-1.6zM143.5,379l1.6,1.6l-1.6,1.6l-1.6,-1.6zM145,340.5l1.6,1.6l-1.6,1.6l-1.6,-1.6zM147.5,314.9l1.6,1.6l-1.6,1.6l-1.6,-1.6zM149.4,352.9l1.6,1.6l-1.6,1.6l-1.6,-1.6zM151.3,333.9l1.6,1.6l-1.6,1.6l-1.6,-1.6zM153.3,282.3l1.6,1.6l-1.6,1.6l-1.6,-1.6zM155.2,326.2l1.6,1.6l-1.6,1.6l-1.6,-1.6zM157.1,306.1l1.6,1.6l-1.6,1.6l-1.6,-1.6zM158.8,382.5l1.6,1.6l-1.6,1.6l-1.6,-1.6zM161.1,347.5l1.6,1.6l-1.6,1.6l-1.6,-1.6zM162.9,393.1l1.6,1.6l-1.6,1.6l-1.6,-1.6zM164.9,382.9l1.6,1.6l-1.6,1.6l-1.6,-1.6zM166.8,363.5l1.6,1.6l-1.6,1.6l-1.6,-1.6zM169,404.1l1.6,1.6l-1.6,1.6l-1.6,-1.6zM170.8,380l1.6,1.6l-1.6,1.6l-1.6,-1.6zM172.7,386.3l1.6,1.6l-1.6,1.6l-1.6,-1.6zM176.6,378.1l1.6,1.6l-1.6,1.6l-1.6,-1.6zM178.5,393.1l1.6,1.6l-1.6,1.6l-1.6,-1.6zM180.7,362.5l1.6,1.6l-1.6,1.6l-1.6,-1.6zM182.4,388.8l1.6,1.6l-1.6,1.6l-1.6,-1.6zM184.8,400.4l1.6,1.6l-1.6,1.6l-1.6,-1.6zM186.5,409.6l1.6,1.6l-1.6,1.6l-1.6,-1.6zM188.3,377.1l1.6,1.6l-1.6,1.6l-1.6,-1.6zM190.6,400.9l1.6,1.6l-1.6,1.6l-1.6,-1.6zM192.4,384.4l1.6,1.6l-1.6,1.6l-1.6,-1.6zM194.6,400.9l1.6,1.6l-1.6,1.6l-1.6,-1.6zM196.5,407l1.6,1.6l-1.6,1.6l-1.6,-1.6zM198.5,410.2l1.6,1.6l-1.6,1.6l-1.6,-1.6zM200.4,394.6l1.6,1.6l-1.6,1.6l-1.6,-1.6zM202,328.1l1.6,1.6l-1.6,1.6l-1.6,-1.6zM203.8,390.7l1.6,1.6l-1.6,1.6l-1.6,-1.6zM205.8,388l1.6,1.6l-1.6,1.6l-1.6,-1.6zM208.1,389.8l1.6,1.6l-1.6,1.6l-1.6,-1.6zM212.2,384l1.6,1.6l-1.6,1.6l-1.6,-1.6zM213.8,360.9l1.6,1.6l-1.6,1.6l-1.6,-1.6zM215.3,413.9l1.6,1.6l-1.6,1.6l-1.6,-1.6zM217.7,377.3l1.6,1.6l-1.6,1.6l-1.6,-1.6zM220,404.6l1.6,1.6l-1.6,1.6l-1.6,-1.6zM222,391.4l1.6,1.6l-1.6,1.6l-1.6,-1.6zM224.1,409.4l1.6,1.6l-1.6,1.6l-1.6,-1.6zM225.7,374.1l1.6,1.6l-1.6,1.6l-1.6,-1.6zM228,420.3l1.6,1.6l-1.6,1.6l-1.6,-1.6zM229.6,381l1.6,1.6l-1.6,1.6l-1.6,-1.6zM231.7,407.1l1.6,1.6l-1.6,1.6l-1.6,-1.6zM234.1,406.7l1.6,1.6l-1.6,1.6l-1.6,-1.6zM235.7,405.5l1.6,1.6l-1.6,1.6l-1.6,-1.6zM237.6,408.3l1.6,1.6l-1.6,1.6l-1.6,-1.6zM241.8,420.3l1.6,1.6l-1.6,1.6l-1.6,-1.6zM243.4,358.5l1.6,1.6l-1.6,1.6l-1.6,-1.6zM245.7,404.2l1.6,1.6l-1.6,1.6l-1.6,-1.6zM247.7,416.8l1.6,1.6l-1.6,1.6l-1.6,-1.6zM249.3,385.8l1.6,1.6l-1.6,1.6l-1.6,-1.6zM253.4,402.3l1.6,1.6l-1.6,1.6l-1.6,-1.6zM255.3,362.2l1.6,1.6l-1.6,1.6l-1.6,-1.6zM263.3,367l1.6,1.6l-1.6,1.6l-1.6,-1.6zM265.4,393.8l1.6,1.6l-1.6,1.6l-1.6,-1.6zM267,414.2l1.6,1.6l-1.6,1.6l-1.6,-1.6zM269.1,399.4l1.6,1.6l-1.6,1.6l-1.6,-1.6zM271,395.4l1.6,1.6l-1.6,1.6l-1.6,-1.6zM273,415.8l1.6,1.6l-1.6,1.6l-1.6,-1.6zM275,388.2l1.6,1.6l-1.6,1.6l-1.6,-1.6zM277.4,414.7l1.6,1.6l-1.6,1.6l-1.6,-1.6zM279.1,372.4l1.6,1.6l-1.6,1.6l-1.6,-1.6zM283.1,376.1l1.6,1.6l-1.6,1.6l-1.6,-1.6zM285.2,391.7l1.6,1.6l-1.6,1.6l-1.6,-1.6zM288.7,415.2l1.6,1.6l-1.6,1.6l-1.6,-1.6zM294.8,384.7l1.6,1.6l-1.6,1.6l-1.6,-1.6zM296.7,414.2l1.6,1.6l-1.6,1.6l-1.6,-1.6zM298.6,368.1l1.6,1.6l-1.6,1.6l-1.6,-1.6zM300.7,398.6l1.6,1.6l-1.6,1.6l-1.6,-1.6zM304.7,391.7l1.6,1.6l-1.6,1.6l-1.6,-1.6zM308.3,412.6l1.6,1.6l-1.6,1.6l-1.6,-1.6zM310.9,397.5l1.6,1.6l-1.6,1.6l-1.6,-1.6z" fill="#1a476f" stroke="#1a476f" stroke-width="2" stroke-linejoin="round"/>
<line x1="28.8" y1="309.6" x2="310.4" y2="415.2" stroke="#90353b" stroke-width="1.35"/>
</g>
<g>
<rect x="336" y="248.2" width="349" height="231" fill="#ebf3f4"/>
<rect x="358.7" y="256" width="317.3" height="193.7" fill="#fff"/>
<line x1="361" y1="263.1" x2="675.5" y2="263.1" stroke="#e6f2f2" stroke-width="1.2"/>
<line x1="361" y1="299.4" x2="675.5" y2="299.4" stroke="#e6f2f2" stroke-width="1.2"/>
<line x1="361" y1="335.7" x2="675.5" y2="335.7" stroke="#e6f2f2" stroke-width="1.2"/>
<line x1="361" y1="372" x2="675.5" y2="372" stroke="#e6f2f2" stroke-width="1.2"/>
<line x1="361" y1="408.3" x2="675.5" y2="408.3" stroke="#e6f2f2" stroke-width="1.2"/>
<line x1="361" y1="444.6" x2="675.5" y2="444.6" stroke="#e6f2f2" stroke-width="1.2"/>
<path d="M358.7,256V450.25" fill="none" stroke="#333" stroke-width="1.1"/>
<path d="M358.7,449.7H676" fill="none" stroke="#777" stroke-width="1.1"/>
<line x1="355.2" y1="263.1" x2="358.2" y2="263.1" stroke="#3a3a3a" stroke-width="0.9"/>
<text class="tk" text-anchor="middle" transform="translate(348,263.1) rotate(-90)" y="3">25</text>
<line x1="355.2" y1="299.4" x2="358.2" y2="299.4" stroke="#3a3a3a" stroke-width="0.9"/>
<text class="tk" text-anchor="middle" transform="translate(348,299.4) rotate(-90)" y="3">20</text>
<line x1="355.2" y1="335.7" x2="358.2" y2="335.7" stroke="#3a3a3a" stroke-width="0.9"/>
<text class="tk" text-anchor="middle" transform="translate(348,335.7) rotate(-90)" y="3">15</text>
<line x1="355.2" y1="372" x2="358.2" y2="372" stroke="#3a3a3a" stroke-width="0.9"/>
<text class="tk" text-anchor="middle" transform="translate(348,372) rotate(-90)" y="3">10</text>
<line x1="355.2" y1="408.3" x2="358.2" y2="408.3" stroke="#3a3a3a" stroke-width="0.9"/>
<text class="tk" text-anchor="middle" transform="translate(348,408.3) rotate(-90)" y="3">5</text>
<line x1="355.2" y1="444.6" x2="358.2" y2="444.6" stroke="#3a3a3a" stroke-width="0.9"/>
<text class="tk" text-anchor="middle" transform="translate(348,444.6) rotate(-90)" y="3">0</text>
<line x1="364.3" y1="450.2" x2="364.3" y2="453.2" stroke="#3a3a3a" stroke-width="0.9"/>
<text class="tk" text-anchor="middle" transform="translate(364.3,461.6) scale(1.11,1)">2001</text>
<line x1="389.73" y1="450.2" x2="389.73" y2="453.2" stroke="#3a3a3a" stroke-width="0.9"/>
<text class="tk" text-anchor="middle" transform="translate(389.73,461.6) scale(1.11,1)">2002</text>
<line x1="415.15" y1="450.2" x2="415.15" y2="453.2" stroke="#3a3a3a" stroke-width="0.9"/>
<text class="tk" text-anchor="middle" transform="translate(415.15,461.6) scale(1.11,1)">2003</text>
<line x1="440.57" y1="450.2" x2="440.57" y2="453.2" stroke="#3a3a3a" stroke-width="0.9"/>
<text class="tk" text-anchor="middle" transform="translate(440.57,461.6) scale(1.11,1)">2004</text>
<line x1="466" y1="450.2" x2="466" y2="453.2" stroke="#3a3a3a" stroke-width="0.9"/>
<text class="tk" text-anchor="middle" transform="translate(466,461.6) scale(1.11,1)">2005</text>
<line x1="491.43" y1="450.2" x2="491.43" y2="453.2" stroke="#3a3a3a" stroke-width="0.9"/>
<text class="tk" text-anchor="middle" transform="translate(491.43,461.6) scale(1.11,1)">2006</text>
<line x1="516.85" y1="450.2" x2="516.85" y2="453.2" stroke="#3a3a3a" stroke-width="0.9"/>
<text class="tk" text-anchor="middle" transform="translate(516.85,461.6) scale(1.11,1)">2007</text>
<line x1="542.27" y1="450.2" x2="542.27" y2="453.2" stroke="#3a3a3a" stroke-width="0.9"/>
<text class="tk" text-anchor="middle" transform="translate(542.27,461.6) scale(1.11,1)">2008</text>
<line x1="567.7" y1="450.2" x2="567.7" y2="453.2" stroke="#3a3a3a" stroke-width="0.9"/>
<text class="tk" text-anchor="middle" transform="translate(567.7,461.6) scale(1.11,1)">2009</text>
<line x1="593.12" y1="450.2" x2="593.12" y2="453.2" stroke="#3a3a3a" stroke-width="0.9"/>
<text class="tk" text-anchor="middle" transform="translate(593.12,461.6) scale(1.11,1)">2010</text>
<line x1="618.55" y1="450.2" x2="618.55" y2="453.2" stroke="#3a3a3a" stroke-width="0.9"/>
<text class="tk" text-anchor="middle" transform="translate(618.55,461.6) scale(1.11,1)">2011</text>
<line x1="643.97" y1="450.2" x2="643.97" y2="453.2" stroke="#3a3a3a" stroke-width="0.9"/>
<text class="tk" text-anchor="middle" transform="translate(643.97,461.6) scale(1.11,1)">2012</text>
<line x1="669.4" y1="450.2" x2="669.4" y2="453.2" stroke="#3a3a3a" stroke-width="0.9"/>
<text class="tk" text-anchor="middle" transform="translate(669.4,461.6) scale(1.11,1)">2013</text>
<text class="tk" text-anchor="middle" x="514" y="470.5" textLength="17.9" lengthAdjust="spacingAndGlyphs">Year</text>
<text class="an" x="523.9" y="271.7">GU</text>
<text class="an" x="523.9" y="285.7">R<tspan font-size="6.9px" dy="-3.5">2</tspan><tspan dy="3.5">=0.27</tspan></text>
<text class="an" x="523.9" y="298.5">b=&#160; -0.078</text>
<text class="an" x="523.9" y="312.3">P&lt;0.0001</text>
<path d="M366.2,260l1.6,1.6l-1.6,1.6l-1.6,-1.6zM368.2,301.1l1.6,1.6l-1.6,1.6l-1.6,-1.6zM370.3,348l1.6,1.6l-1.6,1.6l-1.6,-1.6zM372.7,362.4l1.6,1.6l-1.6,1.6l-1.6,-1.6zM374.4,349.4l1.6,1.6l-1.6,1.6l-1.6,-1.6zM377.2,331.6l1.6,1.6l-1.6,1.6l-1.6,-1.6zM379.1,351.6l1.6,1.6l-1.6,1.6l-1.6,-1.6zM381,344.1l1.6,1.6l-1.6,1.6l-1.6,-1.6zM383.1,295l1.6,1.6l-1.6,1.6l-1.6,-1.6zM385.2,322l1.6,1.6l-1.6,1.6l-1.6,-1.6zM387.4,380l1.6,1.6l-1.6,1.6l-1.6,-1.6zM389.5,357.9l1.6,1.6l-1.6,1.6l-1.6,-1.6zM391.6,325.2l1.6,1.6l-1.6,1.6l-1.6,-1.6zM393.5,321.5l1.6,1.6l-1.6,1.6l-1.6,-1.6zM396,314.6l1.6,1.6l-1.6,1.6l-1.6,-1.6zM398,301.7l1.6,1.6l-1.6,1.6l-1.6,-1.6zM400.3,326.8l1.6,1.6l-1.6,1.6l-1.6,-1.6zM402.4,290.5l1.6,1.6l-1.6,1.6l-1.6,-1.6zM404.5,295.8l1.6,1.6l-1.6,1.6l-1.6,-1.6zM406.4,315.8l1.6,1.6l-1.6,1.6l-1.6,-1.6zM408.8,261.2l1.6,1.6l-1.6,1.6l-1.6,-1.6zM410.9,333.5l1.6,1.6l-1.6,1.6l-1.6,-1.6zM413,355.8l1.6,1.6l-1.6,1.6l-1.6,-1.6zM414.7,290.2l1.6,1.6l-1.6,1.6l-1.6,-1.6zM417.3,273.3l1.6,1.6l-1.6,1.6l-1.6,-1.6zM419.2,367.8l1.6,1.6l-1.6,1.6l-1.6,-1.6zM421.2,361.4l1.6,1.6l-1.6,1.6l-1.6,-1.6zM423.7,336.4l1.6,1.6l-1.6,1.6l-1.6,-1.6zM425.7,346.7l1.6,1.6l-1.6,1.6l-1.6,-1.6zM427.6,282.1l1.6,1.6l-1.6,1.6l-1.6,-1.6zM429.7,294.2l1.6,1.6l-1.6,1.6l-1.6,-1.6zM431.8,276l1.6,1.6l-1.6,1.6l-1.6,-1.6zM434,268l1.6,1.6l-1.6,1.6l-1.6,-1.6zM436.6,287.3l1.6,1.6l-1.6,1.6l-1.6,-1.6zM438.2,352.9l1.6,1.6l-1.6,1.6l-1.6,-1.6zM440.4,336.7l1.6,1.6l-1.6,1.6l-1.6,-1.6zM442.5,354.4l1.6,1.6l-1.6,1.6l-1.6,-1.6zM444.6,350.3l1.6,1.6l-1.6,1.6l-1.6,-1.6zM446.9,332.7l1.6,1.6l-1.6,1.6l-1.6,-1.6zM449.4,331.6l1.6,1.6l-1.6,1.6l-1.6,-1.6zM451,350.3l1.6,1.6l-1.6,1.6l-1.6,-1.6zM453,361.4l1.6,1.6l-1.6,1.6l-1.6,-1.6zM455.4,343.9l1.6,1.6l-1.6,1.6l-1.6,-1.6zM457.5,363.5l1.6,1.6l-1.6,1.6l-1.6,-1.6zM459.7,365.9l1.6,1.6l-1.6,1.6l-1.6,-1.6zM461.8,317.1l1.6,1.6l-1.6,1.6l-1.6,-1.6zM463.5,401.5l1.6,1.6l-1.6,1.6l-1.6,-1.6zM465.3,377.1l1.6,1.6l-1.6,1.6l-1.6,-1.6zM467.7,350.3l1.6,1.6l-1.6,1.6l-1.6,-1.6zM470,391.6l1.6,1.6l-1.6,1.6l-1.6,-1.6zM472.2,347.3l1.6,1.6l-1.6,1.6l-1.6,-1.6zM474.5,396.4l1.6,1.6l-1.6,1.6l-1.6,-1.6zM476.4,400.9l1.6,1.6l-1.6,1.6l-1.6,-1.6zM478.9,356.7l1.6,1.6l-1.6,1.6l-1.6,-1.6zM480.9,411.2l1.6,1.6l-1.6,1.6l-1.6,-1.6zM482.8,336.4l1.6,1.6l-1.6,1.6l-1.6,-1.6zM484.9,381.9l1.6,1.6l-1.6,1.6l-1.6,-1.6zM487.3,403.1l1.6,1.6l-1.6,1.6l-1.6,-1.6zM489.2,380.7l1.6,1.6l-1.6,1.6l-1.6,-1.6zM491.3,351.9l1.6,1.6l-1.6,1.6l-1.6,-1.6zM493.4,317.8l1.6,1.6l-1.6,1.6l-1.6,-1.6zM495.7,365.9l1.6,1.6l-1.6,1.6l-1.6,-1.6zM497.7,391.9l1.6,1.6l-1.6,1.6l-1.6,-1.6zM500,350.3l1.6,1.6l-1.6,1.6l-1.6,-1.6zM502.1,343.4l1.6,1.6l-1.6,1.6l-1.6,-1.6zM504.2,384.4l1.6,1.6l-1.6,1.6l-1.6,-1.6zM506.3,399.3l1.6,1.6l-1.6,1.6l-1.6,-1.6zM508.2,386l1.6,1.6l-1.6,1.6l-1.6,-1.6zM510.6,330.6l1.6,1.6l-1.6,1.6l-1.6,-1.6zM512.7,365.1l1.6,1.6l-1.6,1.6l-1.6,-1.6zM514.6,314.2l1.6,1.6l-1.6,1.6l-1.6,-1.6zM517,329l1.6,1.6l-1.6,1.6l-1.6,-1.6zM519.1,378.7l1.6,1.6l-1.6,1.6l-1.6,-1.6zM521,362.7l1.6,1.6l-1.6,1.6l-1.6,-1.6zM523.4,356.9l1.6,1.6l-1.6,1.6l-1.6,-1.6zM525,367.8l1.6,1.6l-1.6,1.6l-1.6,-1.6zM527.4,337.5l1.6,1.6l-1.6,1.6l-1.6,-1.6zM529.4,341.5l1.6,1.6l-1.6,1.6l-1.6,-1.6zM531.5,346.8l1.6,1.6l-1.6,1.6l-1.6,-1.6zM533.6,395.6l1.6,1.6l-1.6,1.6l-1.6,-1.6zM535.8,391.9l1.6,1.6l-1.6,1.6l-1.6,-1.6zM537.9,355.3l1.6,1.6l-1.6,1.6l-1.6,-1.6zM540,377.1l1.6,1.6l-1.6,1.6l-1.6,-1.6zM542.2,330.6l1.6,1.6l-1.6,1.6l-1.6,-1.6zM543.8,377.1l1.6,1.6l-1.6,1.6l-1.6,-1.6zM546.7,375.8l1.6,1.6l-1.6,1.6l-1.6,-1.6zM548.6,383.2l1.6,1.6l-1.6,1.6l-1.6,-1.6zM550.7,431.7l1.6,1.6l-1.6,1.6l-1.6,-1.6zM552.8,422.9l1.6,1.6l-1.6,1.6l-1.6,-1.6zM555.1,394l1.6,1.6l-1.6,1.6l-1.6,-1.6zM557.2,423.4l1.6,1.6l-1.6,1.6l-1.6,-1.6zM559.2,394l1.6,1.6l-1.6,1.6l-1.6,-1.6zM561.2,335.9l1.6,1.6l-1.6,1.6l-1.6,-1.6zM563.6,390l1.6,1.6l-1.6,1.6l-1.6,-1.6zM566.2,293.7l1.6,1.6l-1.6,1.6l-1.6,-1.6zM567.9,393l1.6,1.6l-1.6,1.6l-1.6,-1.6zM569.3,419.2l1.6,1.6l-1.6,1.6l-1.6,-1.6zM571.7,319.4l1.6,1.6l-1.6,1.6l-1.6,-1.6zM574.3,407.3l1.6,1.6l-1.6,1.6l-1.6,-1.6zM575.9,391.6l1.6,1.6l-1.6,1.6l-1.6,-1.6zM579.1,391.9l1.6,1.6l-1.6,1.6l-1.6,-1.6zM580.7,386l1.6,1.6l-1.6,1.6l-1.6,-1.6zM582.7,364.3l1.6,1.6l-1.6,1.6l-1.6,-1.6zM585.1,364l1.6,1.6l-1.6,1.6l-1.6,-1.6zM587.2,408.4l1.6,1.6l-1.6,1.6l-1.6,-1.6zM588.8,335.9l1.6,1.6l-1.6,1.6l-1.6,-1.6zM591,323.1l1.6,1.6l-1.6,1.6l-1.6,-1.6zM593.1,406.8l1.6,1.6l-1.6,1.6l-1.6,-1.6zM595.2,384.8l1.6,1.6l-1.6,1.6l-1.6,-1.6zM597.4,346.4l1.6,1.6l-1.6,1.6l-1.6,-1.6zM599.5,380l1.6,1.6l-1.6,1.6l-1.6,-1.6zM601.6,399.3l1.6,1.6l-1.6,1.6l-1.6,-1.6zM603.5,402.5l1.6,1.6l-1.6,1.6l-1.6,-1.6zM606,394l1.6,1.6l-1.6,1.6l-1.6,-1.6zM608,429.8l1.6,1.6l-1.6,1.6l-1.6,-1.6zM610.3,406l1.6,1.6l-1.6,1.6l-1.6,-1.6zM612.4,396.7l1.6,1.6l-1.6,1.6l-1.6,-1.6zM614.5,378.7l1.6,1.6l-1.6,1.6l-1.6,-1.6zM616.4,386.8l1.6,1.6l-1.6,1.6l-1.6,-1.6zM619.3,385.5l1.6,1.6l-1.6,1.6l-1.6,-1.6zM620.4,408.9l1.6,1.6l-1.6,1.6l-1.6,-1.6zM623.1,393.5l1.6,1.6l-1.6,1.6l-1.6,-1.6zM625.2,369.1l1.6,1.6l-1.6,1.6l-1.6,-1.6zM627.3,410.5l1.6,1.6l-1.6,1.6l-1.6,-1.6zM629.2,381.1l1.6,1.6l-1.6,1.6l-1.6,-1.6zM631.2,423.7l1.6,1.6l-1.6,1.6l-1.6,-1.6zM635.7,321.5l1.6,1.6l-1.6,1.6l-1.6,-1.6zM637.6,362.7l1.6,1.6l-1.6,1.6l-1.6,-1.6zM639.7,394l1.6,1.6l-1.6,1.6l-1.6,-1.6zM642.1,372l1.6,1.6l-1.6,1.6l-1.6,-1.6zM646.1,347.5l1.6,1.6l-1.6,1.6l-1.6,-1.6zM648.2,305.9l1.6,1.6l-1.6,1.6l-1.6,-1.6zM650.4,369.4l1.6,1.6l-1.6,1.6l-1.6,-1.6zM652.5,380l1.6,1.6l-1.6,1.6l-1.6,-1.6zM654.6,393.2l1.6,1.6l-1.6,1.6l-1.6,-1.6zM656.9,368.3l1.6,1.6l-1.6,1.6l-1.6,-1.6zM658.9,383.2l1.6,1.6l-1.6,1.6l-1.6,-1.6zM661,361.4l1.6,1.6l-1.6,1.6l-1.6,-1.6zM663.3,372l1.6,1.6l-1.6,1.6l-1.6,-1.6zM664.9,419.2l1.6,1.6l-1.6,1.6l-1.6,-1.6zM667.5,425l1.6,1.6l-1.6,1.6l-1.6,-1.6zM669.4,412.1l1.6,1.6l-1.6,1.6l-1.6,-1.6z" fill="#1a476f" stroke="#1a476f" stroke-width="2" stroke-linejoin="round"/>
<line x1="365.9" y1="309.1" x2="669.7" y2="390.3" stroke="#90353b" stroke-width="1.35"/>
</g>
<g>
<rect x="0" y="486" width="334" height="226.7" fill="#ebf3f4"/>
<rect x="21.9" y="495" width="303.6" height="188.1" fill="#fff"/>
<line x1="24" y1="545" x2="325" y2="545" stroke="#e6f2f2" stroke-width="1.2"/>
<line x1="24" y1="589.5" x2="325" y2="589.5" stroke="#e6f2f2" stroke-width="1.2"/>
<line x1="24" y1="634.1" x2="325" y2="634.1" stroke="#e6f2f2" stroke-width="1.2"/>
<path d="M21.9,495V683.65" fill="none" stroke="#555" stroke-width="1.1"/>
<path d="M21.9,683.1H325.5" fill="none" stroke="#555" stroke-width="1.1"/>
<line x1="18.4" y1="500" x2="21.4" y2="500" stroke="#3a3a3a" stroke-width="0.9"/>
<text class="tk" text-anchor="middle" transform="translate(11.1,500) rotate(-90)" y="3">3</text>
<line x1="18.4" y1="545" x2="21.4" y2="545" stroke="#3a3a3a" stroke-width="0.9"/>
<text class="tk" text-anchor="middle" transform="translate(11.1,545) rotate(-90)" y="3">2</text>
<line x1="18.4" y1="589.5" x2="21.4" y2="589.5" stroke="#3a3a3a" stroke-width="0.9"/>
<text class="tk" text-anchor="middle" transform="translate(11.1,589.5) rotate(-90)" y="3">1</text>
<line x1="18.4" y1="634.1" x2="21.4" y2="634.1" stroke="#3a3a3a" stroke-width="0.9"/>
<text class="tk" text-anchor="middle" transform="translate(11.1,634.1) rotate(-90)" y="3">0</text>
<line x1="18.4" y1="678.4" x2="21.4" y2="678.4" stroke="#3a3a3a" stroke-width="0.9"/>
<text class="tk" text-anchor="middle" transform="translate(11.1,678.4) rotate(-90)" y="3">-1</text>
<line x1="27.2" y1="683.6" x2="27.2" y2="686.6" stroke="#3a3a3a" stroke-width="0.9"/>
<text class="tk" text-anchor="middle" transform="translate(27.2,696.1) scale(1.04,1)">2001</text>
<line x1="51.55" y1="683.6" x2="51.55" y2="686.6" stroke="#3a3a3a" stroke-width="0.9"/>
<text class="tk" text-anchor="middle" transform="translate(51.55,696.1) scale(1.04,1)">2002</text>
<line x1="75.9" y1="683.6" x2="75.9" y2="686.6" stroke="#3a3a3a" stroke-width="0.9"/>
<text class="tk" text-anchor="middle" transform="translate(75.9,696.1) scale(1.04,1)">2003</text>
<line x1="100.25" y1="683.6" x2="100.25" y2="686.6" stroke="#3a3a3a" stroke-width="0.9"/>
<text class="tk" text-anchor="middle" transform="translate(100.25,696.1) scale(1.04,1)">2004</text>
<line x1="124.6" y1="683.6" x2="124.6" y2="686.6" stroke="#3a3a3a" stroke-width="0.9"/>
<text class="tk" text-anchor="middle" transform="translate(124.6,696.1) scale(1.04,1)">2005</text>
<line x1="148.95" y1="683.6" x2="148.95" y2="686.6" stroke="#3a3a3a" stroke-width="0.9"/>
<text class="tk" text-anchor="middle" transform="translate(148.95,696.1) scale(1.04,1)">2006</text>
<line x1="173.3" y1="683.6" x2="173.3" y2="686.6" stroke="#3a3a3a" stroke-width="0.9"/>
<text class="tk" text-anchor="middle" transform="translate(173.3,696.1) scale(1.04,1)">2007</text>
<line x1="197.65" y1="683.6" x2="197.65" y2="686.6" stroke="#3a3a3a" stroke-width="0.9"/>
<text class="tk" text-anchor="middle" transform="translate(197.65,696.1) scale(1.04,1)">2008</text>
<line x1="222" y1="683.6" x2="222" y2="686.6" stroke="#3a3a3a" stroke-width="0.9"/>
<text class="tk" text-anchor="middle" transform="translate(222,696.1) scale(1.04,1)">2009</text>
<line x1="246.35" y1="683.6" x2="246.35" y2="686.6" stroke="#3a3a3a" stroke-width="0.9"/>
<text class="tk" text-anchor="middle" transform="translate(246.35,696.1) scale(1.04,1)">2010</text>
<line x1="270.7" y1="683.6" x2="270.7" y2="686.6" stroke="#3a3a3a" stroke-width="0.9"/>
<text class="tk" text-anchor="middle" transform="translate(270.7,696.1) scale(1.04,1)">2011</text>
<line x1="295.05" y1="683.6" x2="295.05" y2="686.6" stroke="#3a3a3a" stroke-width="0.9"/>
<text class="tk" text-anchor="middle" transform="translate(295.05,696.1) scale(1.04,1)">2012</text>
<line x1="319.4" y1="683.6" x2="319.4" y2="686.6" stroke="#3a3a3a" stroke-width="0.9"/>
<text class="tk" text-anchor="middle" transform="translate(319.4,696.1) scale(1.04,1)">2013</text>
<text class="tk" text-anchor="middle" x="156" y="708.8" textLength="17.5" lengthAdjust="spacingAndGlyphs">Year</text>
<text class="an" x="197.2" y="510.3">CM</text>
<text class="an" x="197.2" y="524.6">R<tspan font-size="6.9px" dy="-3.5">2</tspan><tspan dy="3.5">=0.14,</tspan></text>
<text class="an" x="197.2" y="537.4">b=&#160; - 0.003</text>
<text class="an" x="197.2" y="551.4">P&lt;0.0001</text>
<path d="M29.3,560.8l1.6,1.6l-1.6,1.6l-1.6,-1.6zM31.2,551.6l1.6,1.6l-1.6,1.6l-1.6,-1.6zM33.2,581.2l1.6,1.6l-1.6,1.6l-1.6,-1.6zM35.7,557.1l1.6,1.6l-1.6,1.6l-1.6,-1.6zM37.7,559.2l1.6,1.6l-1.6,1.6l-1.6,-1.6zM39.6,550.7l1.6,1.6l-1.6,1.6l-1.6,-1.6zM41.7,551.9l1.6,1.6l-1.6,1.6l-1.6,-1.6zM43.8,547.9l1.6,1.6l-1.6,1.6l-1.6,-1.6zM45.4,572.5l1.6,1.6l-1.6,1.6l-1.6,-1.6zM47.6,573.1l1.6,1.6l-1.6,1.6l-1.6,-1.6zM49.7,569.6l1.6,1.6l-1.6,1.6l-1.6,-1.6zM51.8,528.2l1.6,1.6l-1.6,1.6l-1.6,-1.6zM53.7,566.7l1.6,1.6l-1.6,1.6l-1.6,-1.6zM55.7,533l1.6,1.6l-1.6,1.6l-1.6,-1.6zM58.2,532.4l1.6,1.6l-1.6,1.6l-1.6,-1.6zM59.8,589.3l1.6,1.6l-1.6,1.6l-1.6,-1.6zM61.8,570.4l1.6,1.6l-1.6,1.6l-1.6,-1.6zM63.7,563.2l1.6,1.6l-1.6,1.6l-1.6,-1.6zM66.2,537.8l1.6,1.6l-1.6,1.6l-1.6,-1.6zM67.9,565.1l1.6,1.6l-1.6,1.6l-1.6,-1.6zM70.1,569.3l1.6,1.6l-1.6,1.6l-1.6,-1.6zM72.2,554.4l1.6,1.6l-1.6,1.6l-1.6,-1.6zM74.3,587.6l1.6,1.6l-1.6,1.6l-1.6,-1.6zM76.2,565.6l1.6,1.6l-1.6,1.6l-1.6,-1.6zM78.1,608.5l1.6,1.6l-1.6,1.6l-1.6,-1.6zM79.9,623.5l1.6,1.6l-1.6,1.6l-1.6,-1.6zM82.3,575.7l1.6,1.6l-1.6,1.6l-1.6,-1.6zM84.2,592.4l1.6,1.6l-1.6,1.6l-1.6,-1.6zM86.2,582.8l1.6,1.6l-1.6,1.6l-1.6,-1.6zM88.3,596.1l1.6,1.6l-1.6,1.6l-1.6,-1.6zM90.3,580.5l1.6,1.6l-1.6,1.6l-1.6,-1.6zM92.3,602l1.6,1.6l-1.6,1.6l-1.6,-1.6zM94.2,568l1.6,1.6l-1.6,1.6l-1.6,-1.6zM96.4,649.1l1.6,1.6l-1.6,1.6l-1.6,-1.6zM98.4,615.5l1.6,1.6l-1.6,1.6l-1.6,-1.6zM100.3,571.5l1.6,1.6l-1.6,1.6l-1.6,-1.6zM102.2,551.6l1.6,1.6l-1.6,1.6l-1.6,-1.6zM104.3,588.1l1.6,1.6l-1.6,1.6l-1.6,-1.6zM106.4,601.5l1.6,1.6l-1.6,1.6l-1.6,-1.6zM108.3,590.2l1.6,1.6l-1.6,1.6l-1.6,-1.6zM110.3,592.4l1.6,1.6l-1.6,1.6l-1.6,-1.6zM112.3,543.9l1.6,1.6l-1.6,1.6l-1.6,-1.6zM114.4,579.2l1.6,1.6l-1.6,1.6l-1.6,-1.6zM116.4,623.1l1.6,1.6l-1.6,1.6l-1.6,-1.6zM118.3,604.1l1.6,1.6l-1.6,1.6l-1.6,-1.6zM120.4,570.9l1.6,1.6l-1.6,1.6l-1.6,-1.6zM122.5,598.3l1.6,1.6l-1.6,1.6l-1.6,-1.6zM124.7,570.4l1.6,1.6l-1.6,1.6l-1.6,-1.6zM126.8,552.7l1.6,1.6l-1.6,1.6l-1.6,-1.6zM128.4,588.7l1.6,1.6l-1.6,1.6l-1.6,-1.6zM130.2,591.9l1.6,1.6l-1.6,1.6l-1.6,-1.6zM132.7,549.5l1.6,1.6l-1.6,1.6l-1.6,-1.6zM135,591.8l1.6,1.6l-1.6,1.6l-1.6,-1.6zM136.6,639.8l1.6,1.6l-1.6,1.6l-1.6,-1.6zM139.1,607.4l1.6,1.6l-1.6,1.6l-1.6,-1.6zM140.7,576.8l1.6,1.6l-1.6,1.6l-1.6,-1.6zM143,581.2l1.6,1.6l-1.6,1.6l-1.6,-1.6zM147.2,628.9l1.6,1.6l-1.6,1.6l-1.6,-1.6zM149.1,612.2l1.6,1.6l-1.6,1.6l-1.6,-1.6zM151,580l1.6,1.6l-1.6,1.6l-1.6,-1.6zM153.6,575.2l1.6,1.6l-1.6,1.6l-1.6,-1.6zM155.5,576.4l1.6,1.6l-1.6,1.6l-1.6,-1.6zM157.1,572l1.6,1.6l-1.6,1.6l-1.6,-1.6zM159,568l1.6,1.6l-1.6,1.6l-1.6,-1.6zM161.1,576.8l1.6,1.6l-1.6,1.6l-1.6,-1.6zM163.5,575.2l1.6,1.6l-1.6,1.6l-1.6,-1.6zM165.1,596.1l1.6,1.6l-1.6,1.6l-1.6,-1.6zM167.1,624.4l1.6,1.6l-1.6,1.6l-1.6,-1.6zM169.2,593.8l1.6,1.6l-1.6,1.6l-1.6,-1.6zM171.3,625l1.6,1.6l-1.6,1.6l-1.6,-1.6zM175.4,591l1.6,1.6l-1.6,1.6l-1.6,-1.6zM179.6,620.2l1.6,1.6l-1.6,1.6l-1.6,-1.6zM181.5,621l1.6,1.6l-1.6,1.6l-1.6,-1.6zM187.5,619.9l1.6,1.6l-1.6,1.6l-1.6,-1.6zM191.4,617.1l1.6,1.6l-1.6,1.6l-1.6,-1.6zM193.7,588.6l1.6,1.6l-1.6,1.6l-1.6,-1.6zM195.3,620.7l1.6,1.6l-1.6,1.6l-1.6,-1.6zM197.6,553.9l1.6,1.6l-1.6,1.6l-1.6,-1.6zM201.8,582.1l1.6,1.6l-1.6,1.6l-1.6,-1.6zM203.7,587.3l1.6,1.6l-1.6,1.6l-1.6,-1.6zM205.6,613.8l1.6,1.6l-1.6,1.6l-1.6,-1.6zM215.7,614.9l1.6,1.6l-1.6,1.6l-1.6,-1.6zM217.8,584.4l1.6,1.6l-1.6,1.6l-1.6,-1.6zM220.1,608.3l1.6,1.6l-1.6,1.6l-1.6,-1.6zM228,579l1.6,1.6l-1.6,1.6l-1.6,-1.6zM230.1,567.8l1.6,1.6l-1.6,1.6l-1.6,-1.6zM232,617.1l1.6,1.6l-1.6,1.6l-1.6,-1.6zM234.1,611.9l1.6,1.6l-1.6,1.6l-1.6,-1.6zM235.9,551.2l1.6,1.6l-1.6,1.6l-1.6,-1.6zM238.2,540.5l1.6,1.6l-1.6,1.6l-1.6,-1.6zM240.3,611.5l1.6,1.6l-1.6,1.6l-1.6,-1.6zM242.3,579.2l1.6,1.6l-1.6,1.6l-1.6,-1.6zM244.3,542.3l1.6,1.6l-1.6,1.6l-1.6,-1.6zM246.4,529.4l1.6,1.6l-1.6,1.6l-1.6,-1.6zM248.3,611.5l1.6,1.6l-1.6,1.6l-1.6,-1.6zM250.4,596.8l1.6,1.6l-1.6,1.6l-1.6,-1.6zM252.6,608l1.6,1.6l-1.6,1.6l-1.6,-1.6zM260.7,573.7l1.6,1.6l-1.6,1.6l-1.6,-1.6zM266.4,597l1.6,1.6l-1.6,1.6l-1.6,-1.6zM268.4,602.9l1.6,1.6l-1.6,1.6l-1.6,-1.6zM274.8,595.4l1.6,1.6l-1.6,1.6l-1.6,-1.6zM276.7,551.3l1.6,1.6l-1.6,1.6l-1.6,-1.6zM283.1,557.2l1.6,1.6l-1.6,1.6l-1.6,-1.6zM290.5,595.9l1.6,1.6l-1.6,1.6l-1.6,-1.6zM311.4,586.1l1.6,1.6l-1.6,1.6l-1.6,-1.6z" fill="#1a476f" stroke="#1a476f" stroke-width="2" stroke-linejoin="round"/>
<line x1="29.3" y1="558.7" x2="311.7" y2="594.6" stroke="#90353b" stroke-width="1.35"/>
</g>
<text class="key" x="1.5" y="736">Key:</text>
<path d="M43.5,723.6L47,728.2L43.5,732.8L40,728.2Z" fill="#1a476f" stroke="#000" stroke-width="0.8"/>
<text class="key" x="53.7" y="736">Monthly prevalence</text>
<line x1="198" y1="732" x2="216" y2="732" stroke="#c4403c" stroke-width="1"/>
<text class="key" x="223.6" y="736">Fitted regression line</text>
<text class="key" x="1.7" y="749" textLength="497" lengthAdjust="spacingAndGlyphs">OC=Oral candida, TB=Tuberculosis, HZ=herpes zoster, GU=genital ulcer, CM=cryptococcal meningitis</text>
</svg>
</body></html>
